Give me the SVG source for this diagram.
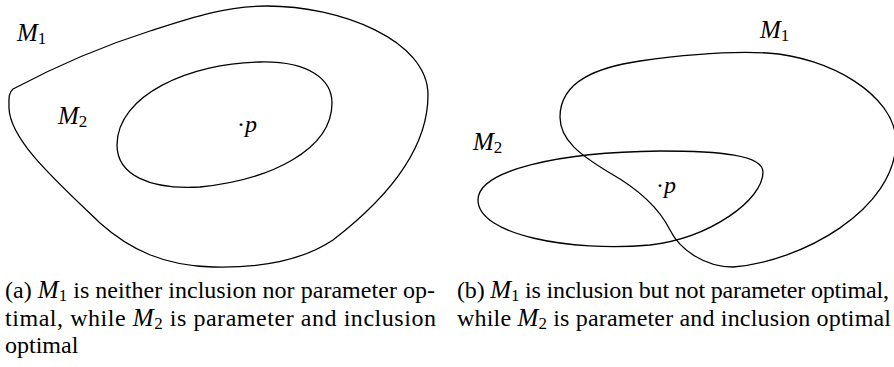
<svg xmlns="http://www.w3.org/2000/svg" width="894" height="367" viewBox="0 0 894 367">
<style>
.curve{fill:none;stroke:#000;stroke-width:1.3}
text{font-family:"Liberation Serif","Times New Roman",serif;font-size:24px;fill:#000}
.cal{font-style:italic;font-size:25px}
.sub{font-size:17px}
.it{font-style:italic}
</style>
<rect width="894" height="367" fill="#fff"/>
<g id="fig-a">
<g id="a-M1">
<path class="curve" d="M13,89 C45,72 90,50 150,31 C190,18 225,6 267,6 C340,6 428,40 428,95 C428,150 385,200 333,240 C300,262 255,268 213,267 C165,266 130,250 100,223 C55,180 10,140 9,108 C9,100 8,93 13,89 Z"/>
<text x="17" y="41"><tspan class="cal">M</tspan><tspan class="sub" dy="3">1</tspan></text>
</g>
<g id="a-M2">
<path class="curve" d="M117,145 C117,95 190,63 260,62 C310,61 332,80 332,103 C332,150 270,180 200,187 C150,190 117,175 117,145 Z"/>
<text x="58" y="124"><tspan class="cal">M</tspan><tspan class="sub" dy="3">2</tspan></text>
</g>
<g id="a-p">
<text x="237" y="132">·<tspan class="it">p</tspan></text>
</g>
</g>
<g id="fig-b">
<g id="b-M1">
<path class="curve" d="M560,117 C560,80 600,67 640,61 C690,54 730,51 767,53 C830,57 894,95 896,140 C897,210 800,262 733,267 C705,267 680,250 670,230 C660,210 640,190 610,173 C580,155 560,140 560,117 Z"/>
<text x="760" y="38"><tspan class="cal">M</tspan><tspan class="sub" dy="3">1</tspan></text>
</g>
<g id="b-M2">
<path class="curve" d="M478,200 C478,170 560,152 660,151 C720,151 763,155 763,172 C763,200 710,238 650,245 C570,252 478,235 478,200 Z"/>
<text x="473" y="150"><tspan class="cal">M</tspan><tspan class="sub" dy="3">2</tspan></text>
</g>
<g id="b-p">
<text x="656" y="193">·<tspan class="it">p</tspan></text>
</g>
</g>
<g id="connectors"></g>
<g id="captions">
<text x="5" y="298" textLength="430" lengthAdjust="spacing">(a) <tspan class="cal">M</tspan><tspan class="sub" dy="3">1</tspan><tspan dy="-3"> is neither inclusion nor parameter op-</tspan></text>
<text x="5" y="326" textLength="431" lengthAdjust="spacing">timal, while <tspan class="cal">M</tspan><tspan class="sub" dy="3">2</tspan><tspan dy="-3"> is parameter and inclusion</tspan></text>
<text x="5" y="353">optimal</text>
<text x="457" y="298" textLength="432" lengthAdjust="spacing">(b) <tspan class="cal">M</tspan><tspan class="sub" dy="3">1</tspan><tspan dy="-3"> is inclusion but not parameter optimal,</tspan></text>
<text x="457" y="326" textLength="434" lengthAdjust="spacing">while <tspan class="cal">M</tspan><tspan class="sub" dy="3">2</tspan><tspan dy="-3"> is parameter and inclusion optimal</tspan></text>
</g>
</svg>
